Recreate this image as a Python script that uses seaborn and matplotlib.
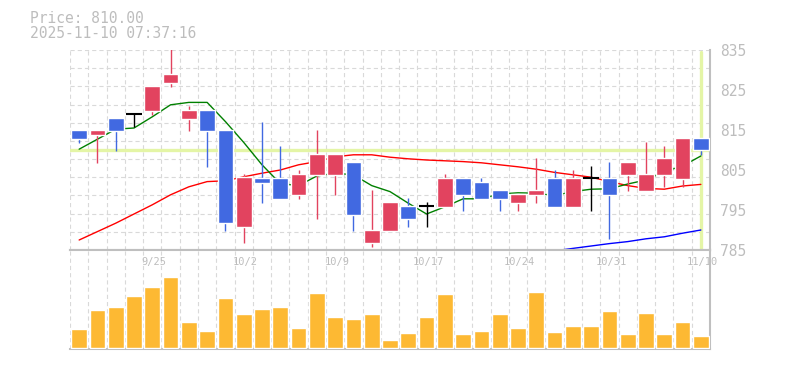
import numpy as np
import pandas as pd
import matplotlib
matplotlib.use("Agg")
import matplotlib.pyplot as plt
import seaborn as sns

# trading days shown on the chart
dates = ["9/18", "9/19", "9/22", "9/24", "9/25", "9/26", "9/29", "9/30", "10/1", "10/2",
         "10/3", "10/6", "10/7", "10/8", "10/9", "10/10", "10/14", "10/15", "10/16", "10/17",
         "10/20", "10/21", "10/22", "10/23", "10/24", "10/27", "10/28", "10/29", "10/30", "10/31",
         "11/4", "11/5", "11/6", "11/7", "11/10"]
label_dates = ["9/25", "10/2", "10/9", "10/17", "10/24", "10/31", "11/10"]

opens = [815.0, 813.8, 818.0, 818.9, 819.8, 826.8, 817.8, 820.0, 815.0, 790.8,
         803.1, 803.1, 798.8, 803.8, 803.8, 807.0, 786.8, 789.8, 796.0, 796.0,
         795.8, 803.0, 802.0, 800.0, 796.8, 798.8, 803.1, 795.8, 803.0, 803.1,
         803.8, 799.8, 803.8, 802.8, 813.0]
highs = [815.0, 815.0, 818.0, 818.9, 826.0, 836.0, 821.0, 820.0, 815.0, 803.9,
         817.0, 811.0, 805.0, 815.0, 809.0, 807.0, 800.0, 797.0, 798.0, 797.0,
         804.0, 803.0, 803.0, 800.0, 799.0, 808.0, 805.0, 805.0, 806.0, 807.0,
         807.0, 812.0, 811.0, 813.0, 813.0]
lows = [811.8, 806.8, 809.8, 815.7, 818.8, 825.8, 814.8, 805.8, 789.8, 786.8,
        796.8, 797.8, 797.8, 792.8, 798.8, 789.8, 785.8, 789.8, 790.8, 790.8,
        795.8, 794.8, 797.8, 794.8, 794.8, 796.8, 795.8, 795.8, 794.8, 787.8,
        799.8, 799.8, 800.8, 800.8, 808.8]
closes = [812.8, 815.0, 814.8, 818.9, 826.0, 829.0, 820.0, 814.8, 791.8, 803.2,
          801.8, 797.8, 804.0, 809.0, 809.0, 793.8, 790.0, 797.0, 792.8, 796.0,
          803.0, 798.8, 797.8, 797.8, 799.0, 800.0, 795.8, 803.1, 803.0, 798.8,
          807.0, 804.0, 808.0, 813.0, 810.0]

ma_short = [810.2, 812.7, 815.2, 815.5, 818.3, 821.3, 821.9, 821.9, 817.1, 811.9,
            806.3, 801.6, 801.1, 803.5, 804.2, 803.8, 801.1, 799.6, 796.7, 794.0,
            795.8, 797.8, 797.8, 799.0, 799.3, 799.2, 798.6, 799.6, 800.2, 800.3,
            801.5, 802.5, 804.6, 806.0, 808.5]
ma_mid = [787.5, 789.6, 791.7, 794.0, 796.3, 798.8, 800.8, 802.1, 802.3, 803.3,
          804.2, 805.0, 806.3, 807.1, 808.3, 808.8, 808.8, 808.2, 807.8, 807.5,
          807.3, 807.1, 806.8, 806.3, 805.8, 805.2, 804.4, 803.8, 803.2, 802.1,
          801.1, 800.4, 800.2, 801.0, 801.4]
ma_long = [np.nan] * 25 + [784.2, 784.8, 785.4, 786.0, 786.6, 787.1, 787.8, 788.3, 789.2, 790.0]

volumes = [1900, 3800, 4100, 5200, 6100, 7100, 2600, 1700, 5000, 3400,
           3900, 4100, 2000, 5500, 3100, 2900, 3400, 800, 1500, 3100,
           5400, 1400, 1700, 3400, 2000, 5600, 1600, 2200, 2200, 3700,
           1400, 3500, 1400, 2600, 1200]

price_ticks = [785, 795, 805, 815, 825, 835]
last_price = 810.00
stamp = "2025-11-10 07:37:16"

up_col, down_col, flat_col = "#e2435f", "#4169e1", "#000000"
vol_col = "#fdb933"
grid_col = "#d9d9d9"
frame_col = "#bfbfbf"
text_col = "#bdbdbd"
mark_col = "#e4f5a6"
mono = "DejaVu Sans Mono"

sns.set_style("white")
plt.rcParams["lines.scale_dashes"] = False
plt.rcParams["font.family"] = [mono, "DejaVu Sans"]

idx = np.arange(len(dates))
df = pd.DataFrame({"date": dates, "open": opens, "high": highs, "low": lows,
                   "close": closes, "ma5": ma_short, "ma25": ma_mid, "ma75": ma_long,
                   "volume": volumes, "i": idx})

W, H = 785, 370
fig = plt.figure(figsize=(W / 100, H / 100), dpi=100)
ax = fig.add_axes([70 / W, (H - 250) / H, 640 / W, 200 / H])
axv = fig.add_axes([70 / W, (H - 349.3) / H, 640 / W, 99.3 / H])

dash = (0, (3.0, 2.2))

# ---- price panel ----
ax.set_xlim(-0.5, len(dates) - 0.5)
ax.set_ylim(785, 835)
ax.set_xticks(idx[:-1] + 0.5, minor=True)
ax.set_xticks([])
ax.set_yticks(price_ticks)
ax.set_yticks(np.linspace(785, 835, 12)[1:-1], minor=True)
ax.grid(which="minor", color=grid_col, linestyle=dash, linewidth=0.8)
ax.grid(which="major", visible=False)
ax.axhline(835, color=grid_col, linestyle=dash, linewidth=0.8, zorder=0)
ax.axvline(-0.5, color=grid_col, linestyle=dash, linewidth=0.8, zorder=0)
ax.yaxis.tick_right()
ax.tick_params(axis="y", which="both", length=0, pad=7, labelsize=10.5, labelcolor=text_col)
ax.tick_params(axis="x", which="both", length=0)
for s in ["top", "left"]:
    ax.spines[s].set_visible(False)
for s in ["right", "bottom"]:
    ax.spines[s].set_color(frame_col)
    ax.spines[s].set_linewidth(1.5)

# current price / current day markers
ax.axhline(last_price, color=mark_col, linewidth=2.4, zorder=1)
ax.plot([idx[-1], idx[-1]], [785.5, 834.6], color=mark_col, linewidth=2.4, zorder=1)

# moving averages
sns.lineplot(data=df, x="i", y="ma25", ax=ax, color="#ff0000", linewidth=1.0, zorder=2)
sns.lineplot(data=df, x="i", y="ma5", ax=ax, color="#008000", linewidth=1.0, zorder=2)
sns.lineplot(data=df, x="i", y="ma75", ax=ax, color="#0000ff", linewidth=1.0, zorder=2)

# candles
colors = [up_col if c > o else down_col if c < o else flat_col for o, c in zip(opens, closes)]
ax.vlines(idx, lows, highs, colors=colors, linewidth=1.0, zorder=3)
body_lo = np.minimum(opens, closes)
body_h = np.abs(np.array(closes) - np.array(opens))
mask = body_h > 0
ax.bar(idx[mask], body_h[mask], bottom=body_lo[mask], width=0.86,
       color=[c for c, m in zip(colors, mask) if m], zorder=4)
flat = ~mask
ax.hlines(np.array(opens)[flat], idx[flat] - 0.43, idx[flat] + 0.43,
          colors=flat_col, linewidth=1.5, zorder=4)
ax.set_xlabel("")
ax.set_ylabel("")

# ---- volume panel ----
sns.barplot(data=df, x="i", y="volume", ax=axv, color=vol_col, saturation=1,
            width=0.86, native_scale=True, zorder=3)
axv.set_xlim(-0.5, len(dates) - 0.5)
axv.set_ylim(-130, 9800)
axv.set_xticks(idx[:-1] + 0.5, minor=True)
axv.set_xticks([])
axv.set_yticks([])
axv.grid(which="minor", axis="x", color=grid_col, linestyle=dash, linewidth=0.8)
axv.axvline(-0.5, color=grid_col, linestyle=dash, linewidth=0.8, zorder=0)
axv.tick_params(axis="both", which="both", length=0)
axv.spines["left"].set_visible(False)
for s in ["top", "bottom", "right"]:
    axv.spines[s].set_color(frame_col)
    axv.spines[s].set_linewidth(1.5)
axv.set_xlabel("")
axv.set_ylabel("")

for lab in label_dates:
    axv.text(dates.index(lab) + 0.1, 0.88, lab, transform=axv.get_xaxis_transform(),
             ha="center", va="center", fontsize=7.5, color=text_col)

# header
fig.text(30 / W, 1 - 11 / H, f"Price: {last_price:.2f}", ha="left", va="top",
         fontsize=10.5, color=text_col)
fig.text(30 / W, 1 - 26 / H, stamp, ha="left", va="top", fontsize=10.5, color=text_col)

fig.savefig("out.png", dpi=100)
